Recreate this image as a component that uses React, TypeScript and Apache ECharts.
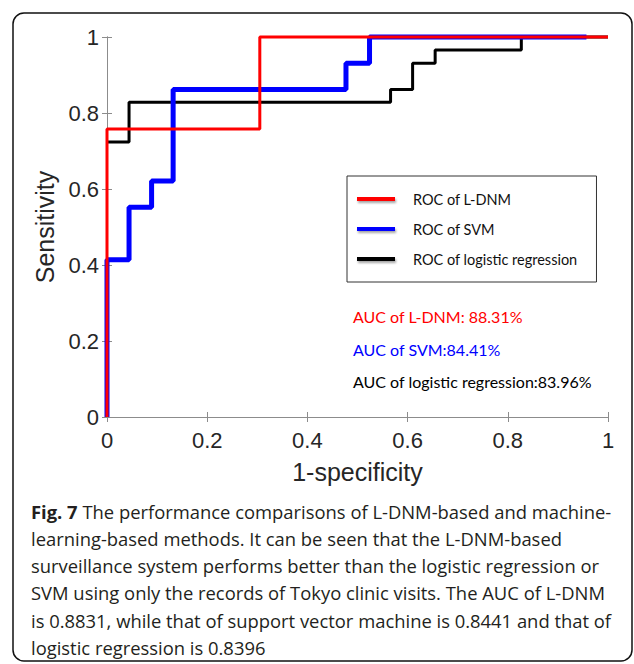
import React, { useEffect, useRef } from "react";
import * as echarts from "echarts";

const ldnmFpr = [0, 0, 0.305, 0.305, 1];
const ldnmTpr = [0, 0.758, 0.758, 1, 1];
const svmFpr = [0, 0, 0.044, 0.044, 0.089, 0.089, 0.132, 0.132, 0.477, 0.477, 0.524, 0.524, 0.957];
const svmTpr = [0, 0.414, 0.414, 0.552, 0.552, 0.621, 0.621, 0.862, 0.862, 0.931, 0.931, 1, 1];
const lrFpr = [0, 0.044, 0.044, 0.566, 0.566, 0.61, 0.61, 0.655, 0.655, 0.827, 0.827, 1];
const lrTpr = [0.724, 0.724, 0.828, 0.828, 0.862, 0.862, 0.931, 0.931, 0.966, 0.966, 1, 1];

const seriesNames = ["ROC of L-DNM", "ROC of SVM", "ROC of logistic regression"];
const aucTexts = ["AUC of L-DNM: 88.31%", "AUC of SVM:84.41%", "AUC of logistic regression:83.96%"];
const captionLines = [
  "The performance comparisons of L-DNM-based and machine-",
  "learning-based methods. It can be seen that the L-DNM-based",
  "surveillance system performs better than the logistic regression or",
  "SVM using only the records of Tokyo clinic visits. The AUC of L-DNM",
  "is 0.8831, while that of support vector machine is 0.8441 and that of",
  "logistic regression is 0.8396",
];
const captionLabel = "Fig. 7";

const zip = (xs: number[], ys: number[]) => xs.map((x, i) => [x, ys[i]]);

export default function App() {
  const ref = useRef<HTMLDivElement>(null);
  useEffect(() => {
    if (!ref.current) return;
    const chart = echarts.init(ref.current, null, { renderer: "svg" });
    const axisColor = "#8c8c8c";
    const labelColor = "#262626";
    const tickFont = "'Liberation Sans', Arial, sans-serif";
    const capFont = "'Open Sans', sans-serif";
    const capSize = 18.4;
    const baseAxis = {
      type: "value",
      min: 0,
      max: 1,
      interval: 0.2,
      splitLine: { show: false },
      axisLine: { show: true, lineStyle: { color: axisColor, width: 1 } },
      axisTick: { show: true, inside: true, length: 5, lineStyle: { color: axisColor } },
    };
    const colors = ["#ff0000", "#0000ff", "#000000"];
    const caption: any[] = captionLines.map((line, i) => ({
      type: "text",
      left: 31,
      top: 502 + i * 27.3,
      style: {
        text: i === 0 ? `{b|${captionLabel}} ${line}` : line,
        font: `${capSize}px ${capFont}`,
        fill: "#231f20",
        rich: { b: { fontWeight: "bold", fontSize: capSize, fontFamily: capFont, fill: "#231f20" } },
      },
    }));
    chart.setOption({
      animation: false,
      backgroundColor: "#fff",
      grid: { left: 107, top: 37, width: 501, height: 380 },
      xAxis: [
        {
          ...baseAxis,
          position: "bottom",
          axisLabel: { color: labelColor, fontSize: 22, fontFamily: tickFont, margin: 12 },
          name: "1-specificity",
          nameLocation: "middle",
          nameGap: 42,
          nameTextStyle: { color: labelColor, fontSize: 25, fontFamily: tickFont },
        },
        { ...baseAxis, position: "top", axisLabel: { show: false } },
      ],
      yAxis: [
        {
          ...baseAxis,
          position: "left",
          axisLabel: { color: labelColor, fontSize: 22, fontFamily: tickFont, margin: 8 },
          name: "Sensitivity",
          nameLocation: "middle",
          nameGap: 50,
          nameTextStyle: { color: labelColor, fontSize: 25, fontFamily: tickFont },
        },
        { ...baseAxis, position: "right", axisLabel: { show: false } },
      ],
      legend: {
        orient: "vertical",
        left: 347,
        top: 176,
        padding: [15, 19, 15, 10],
        itemWidth: 38,
        itemHeight: 4,
        itemGap: 14,
        icon: "rect",
        selectedMode: false,
        backgroundColor: "#fff",
        borderColor: "#333",
        borderWidth: 1,
        data: seriesNames,
        itemStyle: { shadowColor: "rgba(0,0,0,0.35)", shadowBlur: 2, shadowOffsetX: 1, shadowOffsetY: 2 },
        textStyle: { fontFamily: "Lato, sans-serif", fontSize: 14.5, color: "#111", lineHeight: 16, padding: [0, 0, 0, 13] },
      },
      graphic: [
        {
          type: "rect",
          shape: { x: 13, y: 13, width: 619, height: 648, r: 11 },
          style: { fill: "none", stroke: "#111", lineWidth: 1.5 },
          z: 100,
        },
        ...aucTexts.map((t, i) => ({
          type: "text",
          left: 353,
          top: [308, 341, 373][i],
          style: { text: t, font: "16px Lato, sans-serif", fill: colors[i] },
          z: 100,
        })),
        ...caption,
      ],
      series: [
        {
          name: seriesNames[2],
          type: "line",
          data: zip(lrFpr, lrTpr),
          showSymbol: false,
          clip: false,
          lineStyle: { color: colors[2], width: 3 },
          itemStyle: { color: colors[2] },
          z: 2,
        },
        {
          name: seriesNames[1],
          type: "line",
          data: zip(svmFpr, svmTpr),
          showSymbol: false,
          clip: false,
          lineStyle: { color: colors[1], width: 5 },
          itemStyle: { color: colors[1] },
          z: 3,
        },
        {
          name: seriesNames[0],
          type: "line",
          data: zip(ldnmFpr, ldnmTpr),
          showSymbol: false,
          clip: false,
          lineStyle: { color: colors[0], width: 3 },
          itemStyle: { color: colors[0] },
          z: 4,
        },
      ],
    });
    return () => chart.dispose();
  }, []);
  return (
    <div
      ref={ref}
      style={{ position: "fixed", left: 0, top: 0, width: 634, height: 664, background: "#fff" }}
    />
  );
}
